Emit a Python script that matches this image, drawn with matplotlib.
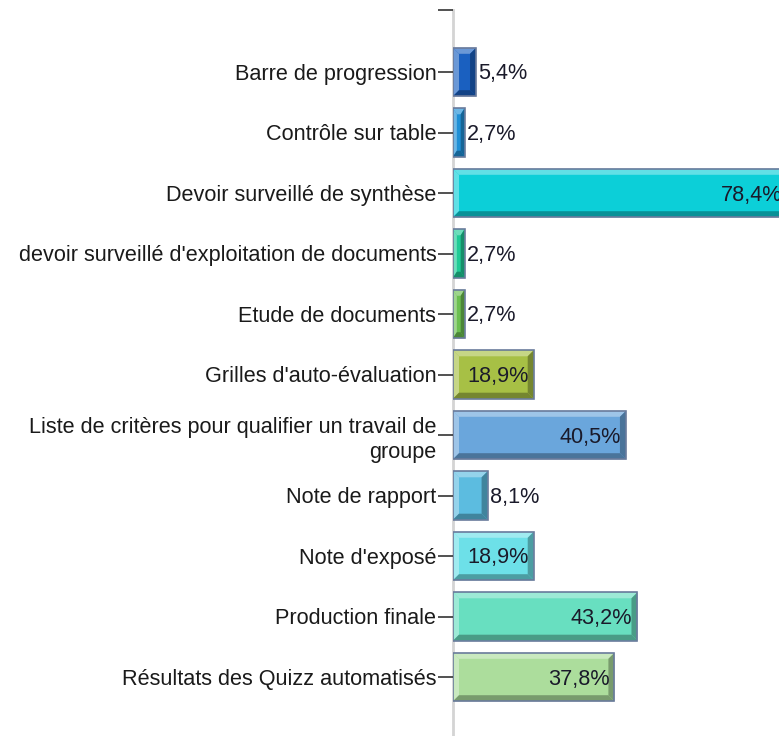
import matplotlib
matplotlib.use("Agg")
import matplotlib.pyplot as plt
from matplotlib.patches import Polygon
import numpy as np

plt.rcParams['font.family'] = ['Liberation Sans', 'DejaVu Sans']

categories = [
    "Barre de progression",
    "Contrôle sur table",
    "Devoir surveillé de synthèse",
    "devoir surveillé d'exploitation de documents",
    "Etude de documents",
    "Grilles d'auto-évaluation",
    "Liste de critères pour qualifier un travail de\ngroupe",
    "Note de rapport",
    "Note d'exposé",
    "Production finale",
    "Résultats des Quizz automatisés",
]
values = [5.4, 2.7, 78.4, 2.7, 2.7, 18.9, 40.5, 8.1, 18.9, 43.2, 37.8]
colors = ["#1a60c0", "#1e8fd6", "#0ccfd8", "#1ecb96", "#6bbf50", "#a7c045",
          "#6aa6dc", "#5cbce0", "#6de0e8", "#68dfc0", "#acdd9c"]

W, H = 779, 736
FS = 15.6
fig = plt.figure(figsize=(W / 100, H / 100), dpi=100)
ax_left = 453
ax_top = 10
ax = fig.add_axes([ax_left / W, 0, 1 - ax_left / W, (H - ax_top) / H])

px_per_cat = 60.5
c0 = 72
ax.set_ylim((H - c0) / px_per_cat, (ax_top - c0) / px_per_cat)
xmax = (W - ax_left) / 4.27
ax.set_xlim(0, xmax)

y = np.arange(len(categories))
bh = 0.8
bars = ax.barh(y, values, height=bh, color=colors, edgecolor="none", zorder=2)

def mix(c, t, amt):
    c = np.array(matplotlib.colors.to_rgb(c))
    return tuple(c * (1 - amt) + np.array(t) * amt)

dx = xmax / (W - ax_left)      # data units per pixel (x)
dy = 1 / px_per_cat            # data units per pixel (y)
bev = 6
for b, col in zip(bars, colors):
    x0, yb = b.get_x(), b.get_y()
    w, h = b.get_width(), b.get_height()
    x1, yt = x0 + w, yb + h
    bx = min(bev * dx, w / 3)
    by = bev * dy
    light = mix(col, (1, 1, 1), 0.35)
    dark = mix(col, (0, 0, 0), 0.3)
    top = [(x0, yb), (x1, yb), (x1 - bx, yb + by), (x0 + bx, yb + by)]
    bot = [(x0, yt), (x1, yt), (x1 - bx, yt - by), (x0 + bx, yt - by)]
    left = [(x0, yb), (x0 + bx, yb + by), (x0 + bx, yt - by), (x0, yt)]
    right = [(x1, yb), (x1 - bx, yb + by), (x1 - bx, yt - by), (x1, yt)]
    for pts, c in [(top, light), (left, light), (bot, dark), (right, dark)]:
        ax.add_patch(Polygon(pts, closed=True, facecolor=c, edgecolor="none", zorder=3))
    ax.add_patch(matplotlib.patches.Rectangle((x0, yb), w, h, facecolor="none",
                 edgecolor="#6a7b9c", linewidth=1.2, zorder=4))

for yi, v in zip(y, values):
    txt = f"{v:.1f}".replace(".", ",") + "%"
    yy = yi + 2 * dy
    if v > 15:
        ax.text(v - 5 * dx, yy, txt, ha="right", va="center", fontsize=FS,
                color="#1a1a2a", zorder=5)
    else:
        ax.text(v + 2 * dx, yy, txt, ha="left", va="center", fontsize=FS,
                color="#1a1a2a", zorder=5)

ax.set_yticks(list(y) + [(ax_top - c0) / px_per_cat + 0.001])
ax.set_yticklabels(categories + [""], fontsize=FS, color="#1a1a1a", ha="right")
for lbl in ax.get_yticklabels():
    lbl.set_linespacing(1.3)
ax.tick_params(axis="y", length=11, width=1.2, color="#333333", pad=1)
ax.set_xticks([])
for s in ["top", "right", "bottom"]:
    ax.spines[s].set_visible(False)
ax.spines["left"].set_color("#d4d4d4")
ax.spines["left"].set_linewidth(2)
ax.spines["left"].set_zorder(1)
ax.set_facecolor("white")

fig.savefig("out.png", dpi=100)
